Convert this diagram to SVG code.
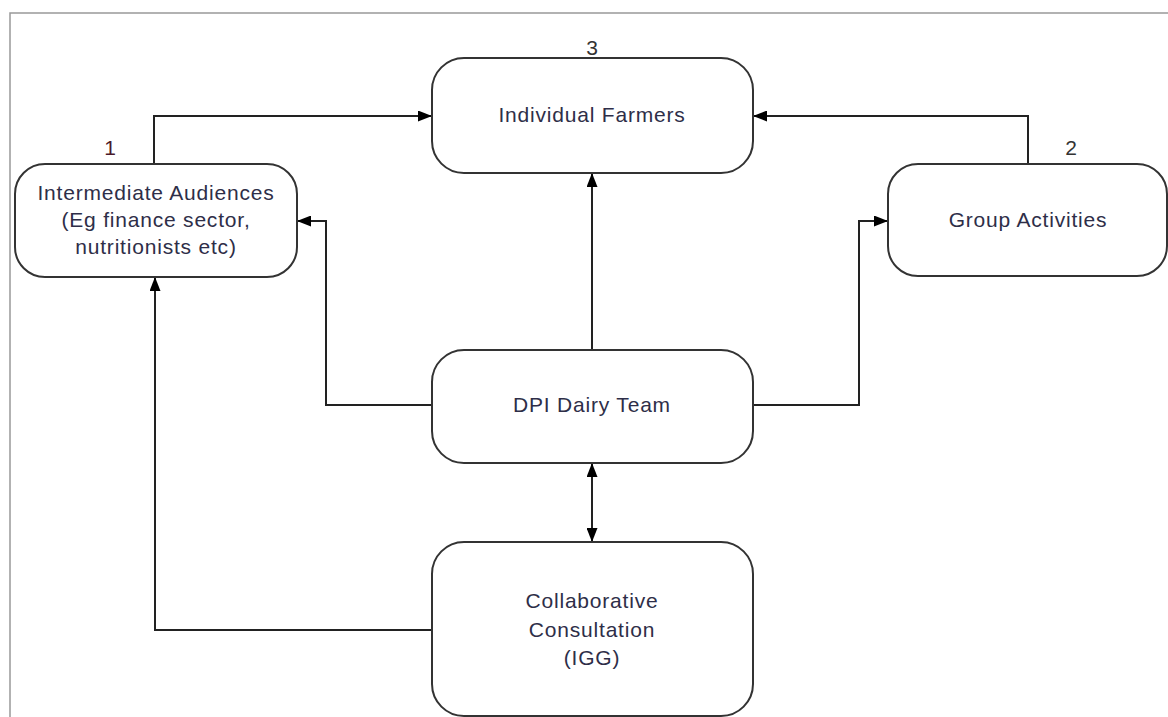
<svg xmlns="http://www.w3.org/2000/svg" width="1168" height="717" viewBox="0 0 1168 717">
<style>
.box{fill:#fff;stroke:#333;stroke-width:2}
.lbl{font-family:"Liberation Sans",Arial,sans-serif;font-size:21px;letter-spacing:0.8px;fill:#2e2e48;text-anchor:middle}
.num{font-family:"Liberation Sans",Arial,sans-serif;font-size:21px;fill:#333;text-anchor:middle}
.con{fill:none;stroke:#222;stroke-width:2}
</style>
<defs>
<marker id="arr" viewBox="0 0 14 11" refX="14" refY="5.5" markerWidth="14" markerHeight="11" markerUnits="userSpaceOnUse" orient="auto-start-reverse">
<path d="M0,0 L14,5.5 L0,11 Z" fill="#000"/>
</marker>
</defs>
<rect x="10" y="13" width="1170" height="720" fill="#fff" stroke="#999" stroke-width="1.5"/>
<g id="connectors">
<path class="con" d="M154,164 V116 H432" marker-end="url(#arr)"/>
<path class="con" d="M1028,164 V116 H753" marker-end="url(#arr)"/>
<path class="con" d="M592,350 V173" marker-end="url(#arr)"/>
<path class="con" d="M432,405 H326 V221 H297" marker-end="url(#arr)"/>
<path class="con" d="M753,405 H859 V221 H888" marker-end="url(#arr)"/>
<path class="con" d="M592,463 V542" marker-start="url(#arr)" marker-end="url(#arr)"/>
<path class="con" d="M432,630 H155 V277" marker-end="url(#arr)"/>
</g>
<g id="intermediate">
<rect class="box" x="15" y="164" width="282" height="113" rx="30" ry="30"/>
<text class="num" x="110" y="155" style="fill:#4a1a2a">1</text>
<text class="lbl" x="156" y="200">Intermediate Audiences</text>
<text class="lbl" x="156" y="227">(Eg finance sector,</text>
<text class="lbl" x="156" y="254">nutritionists etc)</text>
</g>
<g id="individual">
<rect class="box" x="432" y="58" width="321" height="115" rx="32" ry="32"/>
<text class="num" x="592" y="55">3</text>
<text class="lbl" x="592" y="122">Individual Farmers</text>
</g>
<g id="group">
<rect class="box" x="888" y="164" width="279" height="112" rx="30" ry="30"/>
<text class="num" x="1071" y="155">2</text>
<text class="lbl" x="1028" y="227">Group Activities</text>
</g>
<g id="dpi">
<rect class="box" x="432" y="350" width="321" height="113" rx="32" ry="32"/>
<text class="lbl" x="592" y="412">DPI Dairy Team</text>
</g>
<g id="collab">
<rect class="box" x="432" y="542" width="321" height="174" rx="32" ry="32"/>
<text class="lbl" x="592" y="608">Collaborative</text>
<text class="lbl" x="592" y="637">Consultation</text>
<text class="lbl" x="592" y="665">(IGG)</text>
</g>
</svg>
